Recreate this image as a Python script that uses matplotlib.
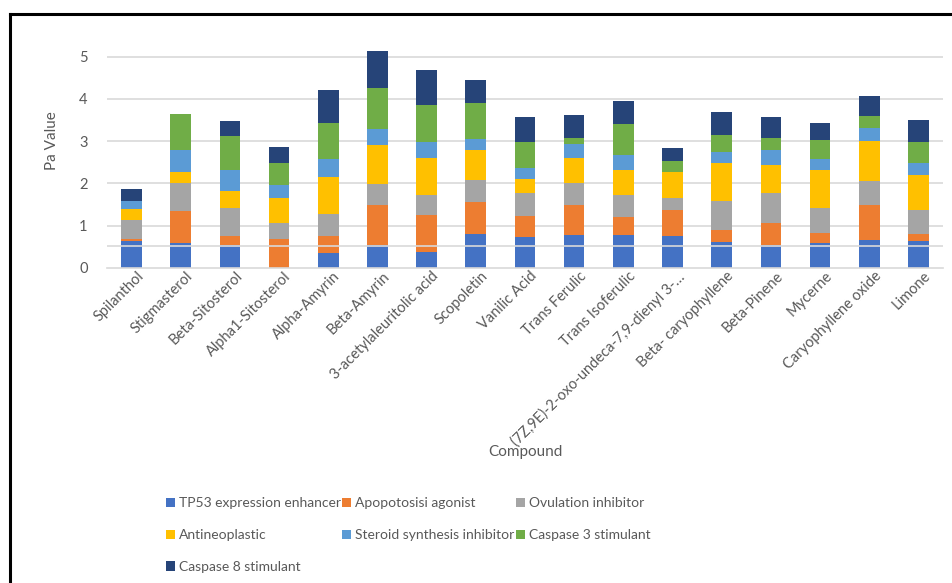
import numpy as np
import matplotlib
matplotlib.use('Agg')
import matplotlib.pyplot as plt
from matplotlib.lines import Line2D
from matplotlib.transforms import ScaledTranslation

plt.rcParams['font.family'] = ['Lato', 'DejaVu Sans']

compounds = ['Spilanthol', 'Stigmasterol', 'Beta-Sitosterol', 'Alpha1-Sitosterol',
             'Alpha-Amyrin', 'Beta-Amyrin', '3-acetylaleuritolic acid', 'Scopoletin',
             'Vanilic Acid', 'Trans Ferulic', 'Trans Isoferulic',
             '(7Z,9E)-2-oxo-undeca-7,9-dienyl 3-\u2026', 'Beta- caryophyllene',
             'Beta-Pinene', 'Mycerne', 'Caryophyllene oxide', 'Limone']

tp53 = [0.63, 0.59, 0.55, 0.00, 0.36, 0.53, 0.38, 0.81, 0.72, 0.78, 0.78, 0.76, 0.61, 0.53, 0.58, 0.66, 0.64]
apoptosis = [0.05, 0.75, 0.19, 0.68, 0.38, 0.95, 0.87, 0.74, 0.51, 0.70, 0.43, 0.61, 0.28, 0.53, 0.24, 0.82, 0.17]
ovulation = [0.44, 0.67, 0.68, 0.38, 0.54, 0.51, 0.47, 0.54, 0.53, 0.52, 0.51, 0.29, 0.68, 0.72, 0.60, 0.57, 0.56]
antineoplastic = [0.27, 0.26, 0.40, 0.60, 0.88, 0.92, 0.87, 0.71, 0.34, 0.59, 0.59, 0.61, 0.91, 0.66, 0.89, 0.96, 0.82]
steroid = [0.19, 0.53, 0.50, 0.29, 0.42, 0.38, 0.39, 0.26, 0.26, 0.35, 0.35, 0.00, 0.26, 0.34, 0.26, 0.31, 0.29]
caspase3 = [0.00, 0.85, 0.80, 0.53, 0.86, 0.98, 0.88, 0.85, 0.63, 0.14, 0.75, 0.25, 0.40, 0.29, 0.46, 0.27, 0.51]
caspase8 = [0.28, 0.00, 0.35, 0.37, 0.78, 0.86, 0.83, 0.53, 0.57, 0.55, 0.54, 0.31, 0.54, 0.49, 0.41, 0.47, 0.51]

series = [
    ('TP53 expression enhancer', tp53, '#4472C4'),
    ('Apopotosisi agonist', apoptosis, '#ED7D31'),
    ('Ovulation inhibitor', ovulation, '#A5A5A5'),
    ('Antineoplastic', antineoplastic, '#FFC000'),
    ('Steroid synthesis inhibitor', steroid, '#5B9BD5'),
    ('Caspase 3 stimulant', caspase3, '#70AD47'),
    ('Caspase 8 stimulant', caspase8, '#264478'),
]

text_color = '#595959'
grid_color = '#d9d9d9'
fs = 10.5

fig = plt.figure(figsize=(9.52, 5.83), dpi=100)
ax = fig.add_axes([0.1124, 0.5408, 0.8781, 0.4343])

x = np.arange(len(compounds))
bottom = np.zeros(len(compounds))
handles = []
for name, vals, color in series:
    vals = np.array(vals)
    h = ax.bar(x, vals, width=0.42, bottom=bottom, color=color, label=name, zorder=2)
    handles.append(h)
    bottom += vals

ax.set_xlim(-0.5, len(compounds) - 0.5)
ax.set_ylim(0, 6)
ax.set_yticks(range(6))
for yv in range(1, 6):
    ax.axhline(yv, color=grid_color, lw=1.2, zorder=1)
ax.axhline(0.52, color=grid_color, lw=1.2, zorder=3)

for s in ['top', 'right', 'left']:
    ax.spines[s].set_visible(False)
ax.spines['bottom'].set_color(grid_color)
ax.spines['bottom'].set_linewidth(1.2)
ax.tick_params(axis='both', length=0, colors=text_color, labelsize=fs)
ax.tick_params(axis='y', pad=14)
ax.tick_params(axis='x', pad=1)
ax.set_xticks(x)
ax.set_xticklabels(compounds, rotation=45, ha='right', va='top', rotation_mode='anchor')
shift = ScaledTranslation(5 / 100, 0, fig.dpi_scale_trans)
for lbl in ax.get_xticklabels():
    lbl.set_transform(lbl.get_transform() + shift)

ax.set_ylabel('Pa Value', color=text_color, fontsize=fs + 0.5, labelpad=14)
ax.set_xlabel('Compound', color=text_color, fontsize=fs + 0.5)
ax.xaxis.set_label_coords(0.5, -0.70)

# row-major order for a 3-column legend
order = [0, 3, 6, 1, 4, 2, 5]
leg = fig.legend([handles[i] for i in order], [series[i][0] for i in order],
                 ncol=3, loc='upper left', bbox_to_anchor=(0.174, 0.147),
                 frameon=False, fontsize=10, handlelength=0.65, handleheight=0.65,
                 handletextpad=0.3, columnspacing=0.1, labelspacing=1.42,
                 borderaxespad=0, borderpad=0)
for t in leg.get_texts():
    t.set_color(text_color)

# outer frame lines (left and top)
fig.add_artist(Line2D([0.0105, 0.0105], [0.0, 0.976], color='black', lw=2.2,
                      transform=fig.transFigure))
fig.add_artist(Line2D([0.0105, 1.0], [0.976, 0.976], color='black', lw=2.2,
                      transform=fig.transFigure))

fig.savefig('out.png', dpi=100)
